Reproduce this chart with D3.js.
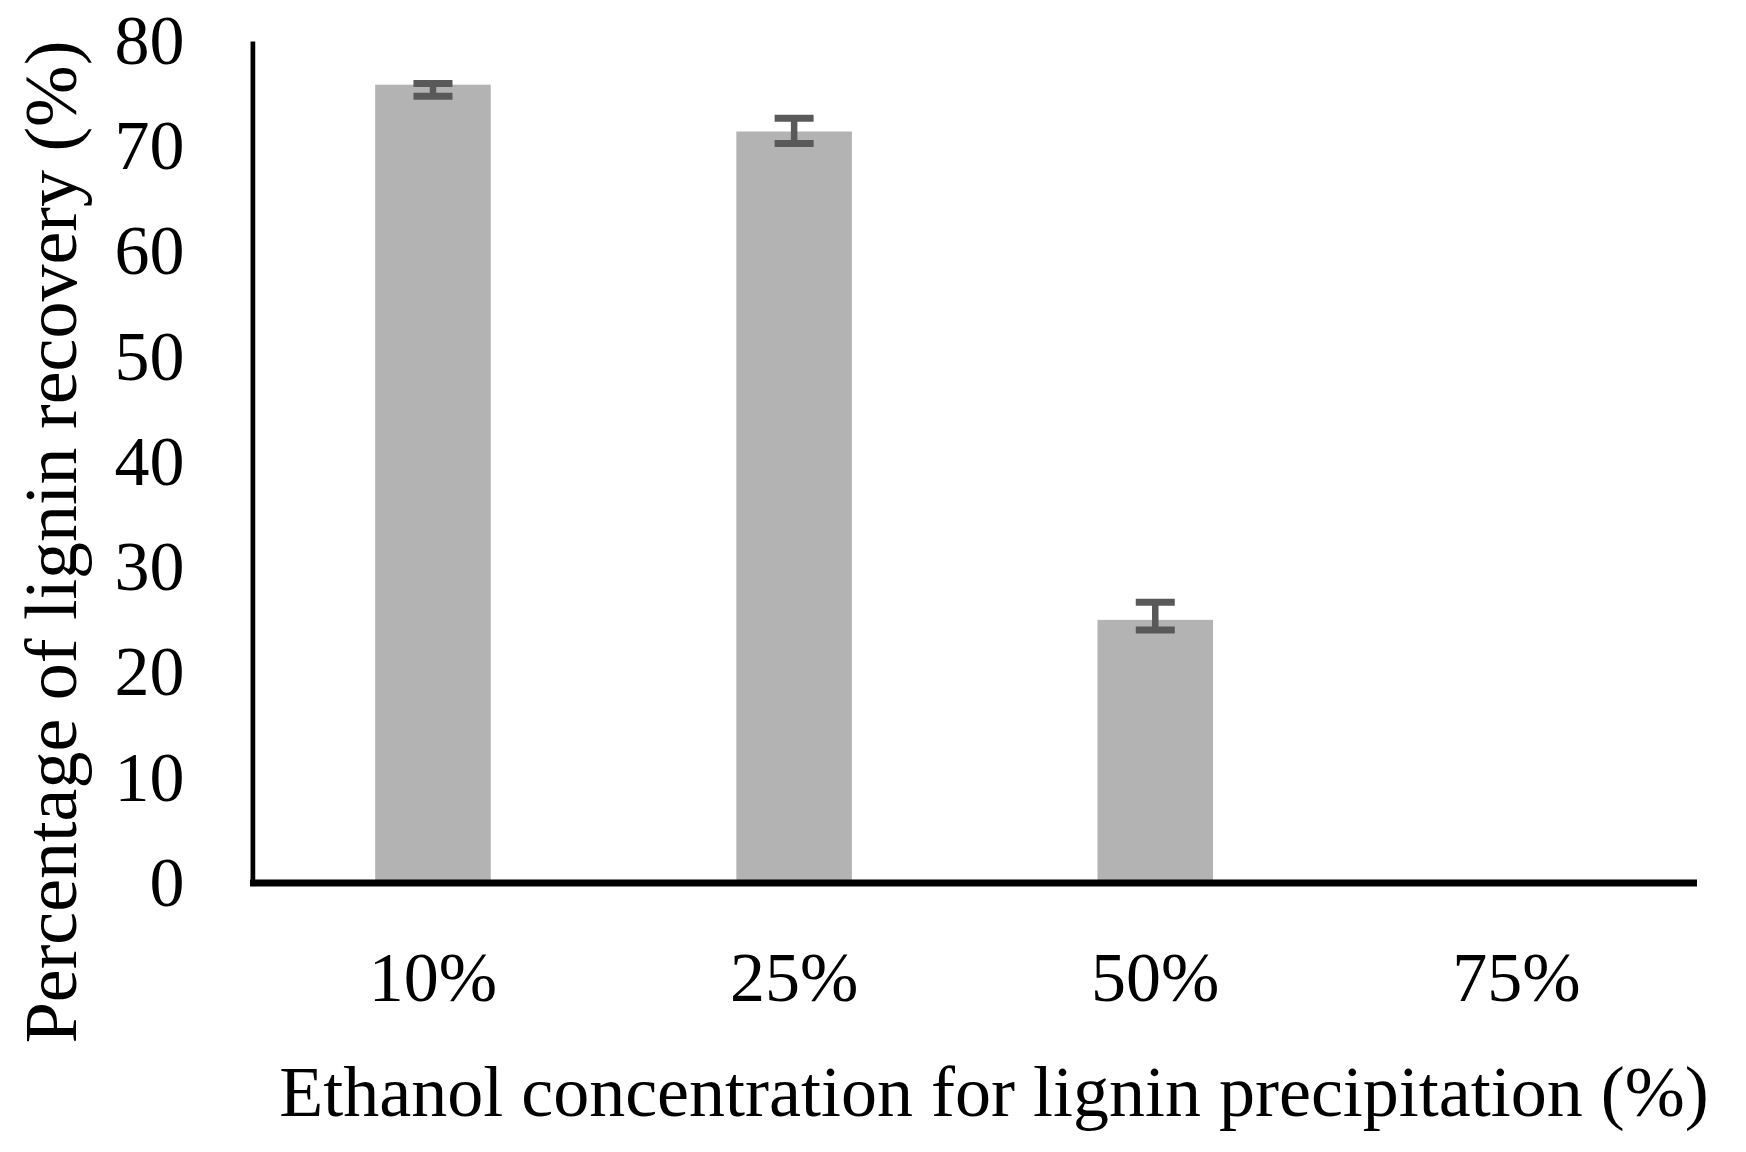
<!DOCTYPE html>
<html>
<head>
<meta charset="utf-8">
<script src="https://cdn.jsdelivr.net/npm/d3@7"></script>
<style>
  html, body { margin: 0; padding: 0; background: #ffffff; }
  svg { display: block; }
  text { font-family: "Liberation Serif", "DejaVu Serif", serif; fill: #000; }
</style>
</head>
<body>
<script>
// ---- data ----
const categories = ["10%", "25%", "50%", "75%"];
const values = [75.85, 71.4, 25.0, 0];
const errLow = [74.75, 70.26, 24.04, null];
const errHigh = [75.96, 72.65, 26.67, null];
const yTicks = [0, 10, 20, 30, 40, 50, 60, 70, 80];
const xTitle = "Ethanol concentration for lignin precipitation (%)";
const yTitle = "Percentage of lignin recovery (%)";

// ---- layout ----
const W = 1746, H = 1152;
const plot = { left: 252.4, right: 1697, top: 41, bottom: 883 };

const svg = d3.select("body").append("svg")
  .attr("width", W).attr("height", H);
svg.append("rect").attr("width", W).attr("height", H).attr("fill", "#fff");

const x = d3.scaleBand()
  .domain(categories)
  .range([plot.left, plot.right])
  .paddingInner(0.68)
  .paddingOuter(0.34);

const y = d3.scaleLinear().domain([0, 80]).range([plot.bottom, plot.top]);

// bars
svg.append("g").selectAll("rect")
  .data(categories)
  .join("rect")
  .attr("x", d => x(d))
  .attr("width", x.bandwidth())
  .attr("y", (d, i) => y(values[i]))
  .attr("height", (d, i) => y(0) - y(values[i]))
  .attr("fill", "#b3b3b3");

// error bars
const eb = svg.append("g").attr("stroke", "#595959").attr("fill", "none");
const capW = 39;
categories.forEach((c, i) => {
  if (errLow[i] == null) return;
  const cx = x(c) + x.bandwidth() / 2;
  eb.append("line").attr("x1", cx).attr("x2", cx)
    .attr("y1", y(errHigh[i])).attr("y2", y(errLow[i]))
    .attr("stroke-width", 6.5);
  [errHigh[i], errLow[i]].forEach(v => {
    eb.append("line")
      .attr("x1", cx - capW / 2).attr("x2", cx + capW / 2)
      .attr("y1", y(v)).attr("y2", y(v))
      .attr("stroke-width", 7);
  });
});

// y axis
const yAxis = svg.append("g")
  .attr("transform", `translate(${plot.left},0)`)
  .call(d3.axisLeft(y).tickValues(yTicks).tickSize(0).tickPadding(68).tickSizeOuter(0));
yAxis.select(".domain").attr("stroke", "#000").attr("stroke-width", 4.7);
yAxis.selectAll("text").attr("font-size", 70).attr("font-family", "Liberation Serif").attr("fill", "#000");

// x axis
const xAxis = svg.append("g")
  .attr("transform", `translate(0,${plot.bottom})`)
  .call(d3.axisBottom(x).tickSize(0).tickPadding(68).tickSizeOuter(0));
xAxis.select(".domain").attr("stroke", "#000").attr("stroke-width", 7)
  .attr("d", `M${plot.left - 2.4},0H${plot.right}`);
xAxis.selectAll("text").attr("font-size", 70).attr("font-family", "Liberation Serif").attr("fill", "#000");

// titles
svg.append("text")
  .attr("x", 994).attr("y", 1115.7)
  .attr("text-anchor", "middle")
  .attr("font-size", 72)
  .text(xTitle);

svg.append("text")
  .attr("transform", "translate(76,542) rotate(-90)")
  .attr("text-anchor", "middle")
  .attr("font-size", 74)
  .text(yTitle);
</script>
</body>
</html>
